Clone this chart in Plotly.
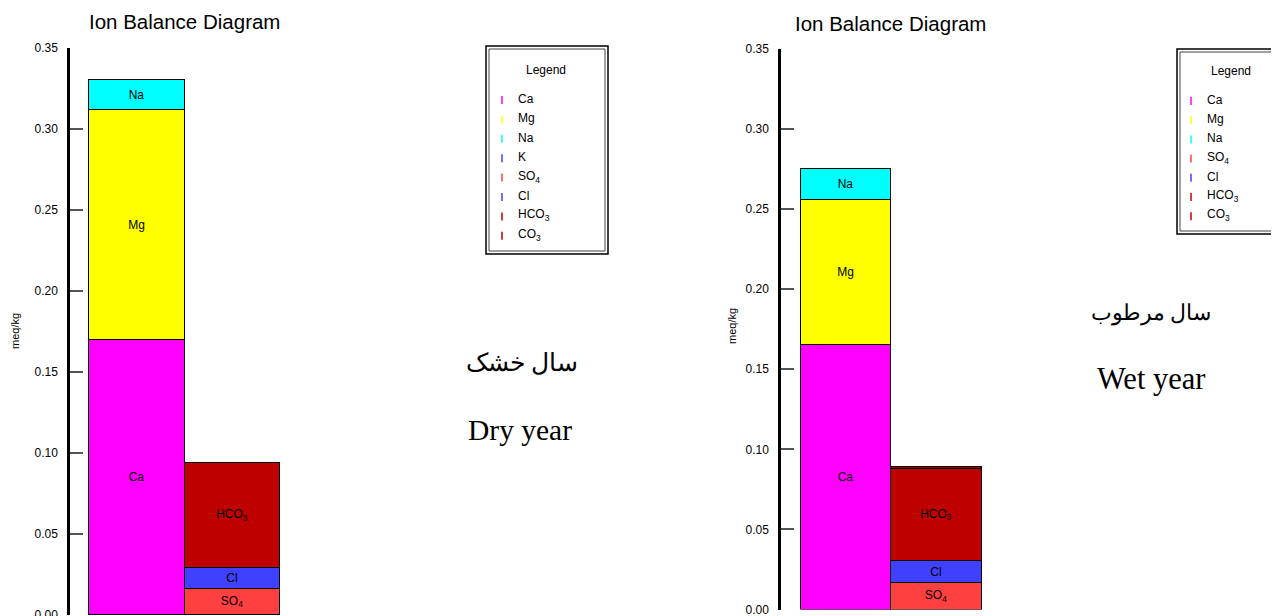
import plotly.graph_objects as go

# page body adds an 8px margin; the figure is sized/offset so that the photographed
# window matches the 1279x616 reference
OFF = 8
W, H = 1279 - OFF, 616 - OFF

# ---------------- data ----------------
cation_ions = ["Ca", "Mg", "Na"]
cation_labels = ["Ca", "Mg", "Na"]
cation_colors = ["#FF00FF", "#FFFF00", "#00FFFF"]
dry_cations = [0.170, 0.1415, 0.0185]
wet_cations = [0.165, 0.0905, 0.0195]

anion_ions = ["SO4", "Cl", "HCO3", "CO3"]
anion_labels = ["SO<sub>4</sub>", "Cl", "HCO<sub>3</sub>", ""]
anion_colors = ["#FF4040", "#4040FF", "#BF0000", "#8B0000"]
dry_anions = [0.016, 0.013, 0.0648, 0.0]
wet_anions = [0.0163, 0.0137, 0.0575, 0.0012]

dry_legend = ["Ca", "Mg", "Na", "K", "SO<sub>4</sub>", "Cl", "HCO<sub>3</sub>", "CO<sub>3</sub>"]
dry_legend_colors = ["#FF00FF", "#FFFF00", "#00FFFF", "#4040FF", "#FF4040", "#4040FF", "#BF0000", "#BF0000"]
wet_legend = ["Ca", "Mg", "Na", "SO<sub>4</sub>", "Cl", "HCO<sub>3</sub>", "CO<sub>3</sub>"]
wet_legend_colors = ["#FF00FF", "#FFFF00", "#00FFFF", "#FF4040", "#4040FF", "#BF0000", "#BF0000"]

y_ticks = [0.0, 0.05, 0.10, 0.15, 0.20, 0.25, 0.30, 0.35]
y_ticktext = ["0.00", "0.05", "0.10", "0.15", "0.20", "0.25", "0.30", "0.35"]

# ---------------- helpers ----------------
def px(x):
    return (x - OFF) / W

def py(y):
    return 1 - (y - OFF) / H

SANS = "Arial, Liberation Sans, sans-serif"
SERIF = "Times New Roman, Liberation Serif, DejaVu Serif, serif"

fig = go.Figure()

def add_panel(cats, cat_labels, cat_cols, ans, an_labels, an_cols, xa, ya):
    for v, lab, c in zip(cats, cat_labels, cat_cols):
        fig.add_trace(go.Bar(
            x=[0], y=[v], width=[1], marker=dict(color=c, line=dict(color="black", width=1)),
            text=[lab], textposition="inside", insidetextanchor="middle",
            textfont=dict(family=SANS, size=12, color="black"),
            constraintext="none", xaxis=xa, yaxis=ya, showlegend=False, hoverinfo="skip"))
    for v, lab, c in zip(ans, an_labels, an_cols):
        fig.add_trace(go.Bar(
            x=[1], y=[v], width=[1], marker=dict(color=c, line=dict(color="black", width=1)),
            text=[lab], textposition="inside", insidetextanchor="middle",
            textfont=dict(family=SANS, size=12, color="black"),
            constraintext="none", xaxis=xa, yaxis=ya, showlegend=False, hoverinfo="skip"))

add_panel(dry_cations, cation_labels, cation_colors, dry_anions, anion_labels, anion_colors, "x", "y")
add_panel(wet_cations, cation_labels, cation_colors, wet_anions, anion_labels, anion_colors, "x2", "y2")

yax_common = dict(
    range=[0, 0.35], tickvals=y_ticks, ticktext=y_ticktext, ticks="inside", ticklen=13,
    tickcolor="#555555", tickwidth=1.5, showline=True, linecolor="black", linewidth=2.5,
    showgrid=False, zeroline=False, automargin=False, ticklabelstandoff=7,
    ticklabeloverflow="allow",
    tickfont=dict(family=SANS, size=12, color="black"),
)

fig.update_layout(
    template="none",
    width=W, height=H, margin=dict(l=0, r=0, t=0, b=0, pad=0),
    paper_bgcolor="white", plot_bgcolor="white", barmode="stack", bargap=0,
    xaxis=dict(domain=[px(70), px(300)], range=[-0.7016, 1.707], visible=False, automargin=False),
    yaxis=dict(domain=[py(615), py(48)], anchor="x", **yax_common),
    xaxis2=dict(domain=[px(781), px(1010)], range=[-0.718, 1.812], visible=False, automargin=False),
    yaxis2=dict(domain=[py(609.5), py(49)], anchor="x2", **yax_common),
)

annotations = []
shapes = []

def note(x, y, text, size, family=SANS, xanchor="center", angle=0):
    annotations.append(dict(x=px(x), y=py(y), xref="paper", yref="paper", text=text, showarrow=False,
                            xanchor=xanchor, yanchor="middle", textangle=angle,
                            font=dict(family=family, size=size, color="black")))

# titles and axis labels
note(184, 22, "Ion Balance Diagram", 20.5)
note(890, 23, "Ion Balance Diagram", 20.5)
note(15, 331, "meq/kg", 11, angle=-90)
note(732, 326, "meq/kg", 11, angle=-90)

# legends
def add_legend(x0, y0, x1, y1, names, cols, title_y, title_x, first_y, step, mark_x, text_x):
    shapes.append(dict(type="rect", xref="paper", yref="paper", x0=px(x0), x1=px(x1), y0=py(y1), y1=py(y0),
                       line=dict(color="black", width=1.5), fillcolor="white"))
    shapes.append(dict(type="rect", xref="paper", yref="paper", x0=px(x0 + 3), x1=px(x1 - 3), y0=py(y1 - 3),
                       y1=py(y0 + 3), line=dict(color="#444444", width=1)))
    note(title_x, title_y, "Legend", 12)
    for i, (n, c) in enumerate(zip(names, cols)):
        yy = first_y + i * step
        shapes.append(dict(type="line", xref="paper", yref="paper", x0=px(mark_x), x1=px(mark_x),
                           y0=py(yy + 5), y1=py(yy - 3), line=dict(color=c, width=1.5)))
        note(text_x, yy, n, 12, xanchor="left")

add_legend(486, 46, 608, 254, dry_legend, dry_legend_colors, 70, 546, 99, 19.4, 502, 516)
add_legend(1177, 49, 1300, 234, wet_legend, wet_legend_colors, 71, 1231, 100, 19.2, 1191, 1205)

note(522, 362, "سال خشک", 25, SERIF)
note(520, 430, "Dry year", 29.5, SERIF)
note(1151, 313, "سال مرطوب", 21.5, SERIF)
note(1151, 379, "Wet year", 30.5, SERIF)

fig.update_layout(annotations=annotations, shapes=shapes)

fig.write_html("out.html")
